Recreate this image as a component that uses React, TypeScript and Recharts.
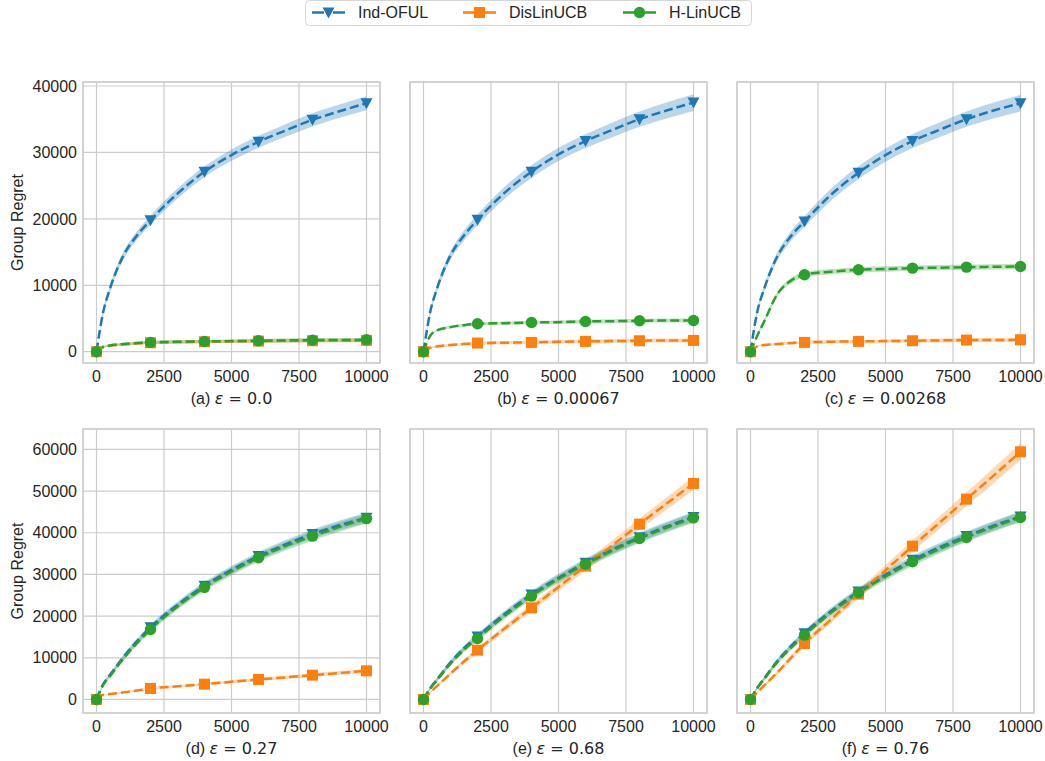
import React from "react";
import { ComposedChart, Line, Area, XAxis, YAxis, CartesianGrid, ReferenceArea, Label } from "recharts";

// time steps (markers every 2000)
const T = [0, 250, 500, 1000, 1500, 2000, 3000, 4000, 5000, 6000, 7000, 8000, 9000, 10000];
const X_TICKS = [0, 2500, 5000, 7500, 10000];
const Y_TICKS_TOP = [0, 10000, 20000, 30000, 40000];
const Y_TICKS_BOTTOM = [0, 10000, 20000, 30000, 40000, 50000, 60000];

// (a) eps = 0.0
const A_IND = [0, 6000, 9500, 14500, 17500, 19800, 23800, 27100, 29600, 31600, 33300, 34900, 36200, 37400];
const A_DIS = [0, 700, 900, 1100, 1250, 1350, 1450, 1500, 1550, 1600, 1650, 1650, 1700, 1700];
const A_HLIN = [0, 750, 950, 1150, 1300, 1400, 1500, 1550, 1600, 1650, 1700, 1750, 1750, 1800];
// (b) eps = 0.00067
const B_IND = [0, 6000, 9500, 14500, 17500, 19850, 23900, 27100, 29700, 31700, 33400, 35000, 36300, 37500];
const B_DIS = [0, 600, 800, 1000, 1150, 1300, 1350, 1400, 1500, 1550, 1600, 1650, 1700, 1700];
const B_HLIN = [0, 2400, 3200, 3700, 4000, 4200, 4300, 4400, 4450, 4550, 4600, 4650, 4700, 4700];
// (c) eps = 0.00268
const C_IND = [0, 6000, 9400, 14400, 17400, 19600, 23700, 26950, 29600, 31700, 33400, 35000, 36300, 37400];
const C_DIS = [0, 800, 1000, 1150, 1300, 1400, 1500, 1550, 1600, 1650, 1700, 1750, 1750, 1800];
const C_HLIN = [0, 2400, 4500, 8700, 10700, 11580, 12050, 12330, 12450, 12580, 12650, 12730, 12780, 12830];
// (d) eps = 0.27
const D_IND = [0, 3700, 5900, 10200, 14000, 17300, 22700, 27300, 31100, 34400, 37200, 39700, 41800, 43600];
const D_DIS = [0, 1100, 1300, 1700, 2150, 2640, 3150, 3670, 4250, 4800, 5300, 5830, 6350, 6870];
const D_HLIN = [0, 3500, 5600, 9800, 13500, 16800, 22300, 26900, 30700, 34000, 36800, 39200, 41400, 43400];
// (e) eps = 0.68
const E_IND = [0, 2700, 4800, 8900, 12300, 15100, 20500, 25200, 29200, 32800, 36000, 38900, 41500, 43800];
const E_DIS = [0, 1700, 3200, 6200, 9100, 11830, 17000, 21990, 27000, 32000, 37000, 42070, 47000, 51830];
const E_HLIN = [0, 2600, 4600, 8600, 11900, 14640, 20000, 24800, 28900, 32470, 35700, 38640, 41200, 43580];
// (f) eps = 0.76
const F_IND = [0, 2800, 5000, 9300, 12800, 15900, 21300, 25900, 29900, 33500, 36500, 39200, 41700, 43900];
const F_DIS = [0, 1700, 3300, 6500, 10000, 13430, 19300, 25270, 31000, 36800, 42400, 48070, 53700, 59430];
const F_HLIN = [0, 2700, 4800, 9000, 12400, 15430, 20900, 25590, 29500, 33030, 36100, 38880, 41400, 43670];

// half-widths of the shaded bands
const BAND_IND_A = [0, 400, 500, 600, 650, 700, 750, 800, 850, 900, 950, 1000, 1000, 1050];
const BAND_IND_B = [0, 400, 500, 650, 750, 800, 900, 950, 1000, 1050, 1100, 1150, 1200, 1250];
const BAND_FLAT = [0, 100, 150, 200, 200, 250, 250, 250, 250, 300, 300, 300, 300, 300];
const BAND_GREEN_C = [0, 200, 300, 350, 400, 400, 400, 400, 400, 400, 400, 400, 400, 400];
const BAND_BOTTOM = [0, 300, 400, 500, 600, 700, 800, 900, 950, 1000, 1050, 1100, 1150, 1200];
const BAND_DIS_D = [0, 100, 150, 200, 250, 300, 300, 350, 350, 400, 400, 450, 450, 500];
const BAND_DIS_E = [0, 200, 300, 400, 500, 600, 750, 900, 1000, 1100, 1200, 1300, 1450, 1600];
const BAND_DIS_F = [0, 200, 300, 450, 600, 700, 900, 1050, 1200, 1350, 1500, 1650, 1850, 2000];

const BLUE = "#1f77b4";
const ORANGE = "#ff7f0e";
const GREEN = "#2ca02c";
const GRID = "#cccccc";
const TEXT = "#262626";

const COL_LEFT = [83, 410, 737];
const ROW_TOP = [82, 429];
const BOX_W = 297;
const BOX_H = [281, 284];
const Y_DOMAIN: [number, number][] = [[-1700, 40600], [-3250, 64900]];
const AXIS_W = 80;

const PANELS = [
  { tag: "a", eps: "0.0", row: 0, col: 0, ind: A_IND, dis: A_DIS, hlin: A_HLIN, bi: BAND_IND_A, bd: BAND_FLAT, bh: BAND_FLAT },
  { tag: "b", eps: "0.00067", row: 0, col: 1, ind: B_IND, dis: B_DIS, hlin: B_HLIN, bi: BAND_IND_B, bd: BAND_FLAT, bh: BAND_FLAT },
  { tag: "c", eps: "0.00268", row: 0, col: 2, ind: C_IND, dis: C_DIS, hlin: C_HLIN, bi: BAND_IND_B, bd: BAND_FLAT, bh: BAND_GREEN_C },
  { tag: "d", eps: "0.27", row: 1, col: 0, ind: D_IND, dis: D_DIS, hlin: D_HLIN, bi: BAND_BOTTOM, bd: BAND_DIS_D, bh: BAND_BOTTOM },
  { tag: "e", eps: "0.68", row: 1, col: 1, ind: E_IND, dis: E_DIS, hlin: E_HLIN, bi: BAND_BOTTOM, bd: BAND_DIS_E, bh: BAND_BOTTOM },
  { tag: "f", eps: "0.76", row: 1, col: 2, ind: F_IND, dis: F_DIS, hlin: F_HLIN, bi: BAND_BOTTOM, bd: BAND_DIS_F, bh: BAND_BOTTOM },
];

type Shape = "tri" | "square" | "circle";

function MarkerShape({ shape, color, cx, cy }: { shape: Shape; color: string; cx: number; cy: number }) {
  if (shape === "tri") {
    return <polygon points={`${cx - 6},${cy - 5} ${cx + 6},${cy - 5} ${cx},${cy + 6}`} fill={color} />;
  }
  if (shape === "square") {
    return <rect x={cx - 5.5} y={cy - 5.5} width={11} height={11} fill={color} />;
  }
  return <circle cx={cx} cy={cy} r={5.7} fill={color} />;
}

const markerDot = (shape: Shape, color: string) => (props: any) => {
  const { cx, cy, payload, index } = props;
  if (cx == null || cy == null || payload.t % 2000 !== 0) return <g key={index} />;
  return (
    <g key={index}>
      <MarkerShape shape={shape} color={color} cx={cx} cy={cy} />
    </g>
  );
};

function Panel({ p }: { p: (typeof PANELS)[number] }) {
  const data = T.map((t, i) => ({
    t,
    ind: p.ind[i],
    indBand: [p.ind[i] - p.bi[i], p.ind[i] + p.bi[i]],
    dis: p.dis[i],
    disBand: [p.dis[i] - p.bd[i], p.dis[i] + p.bd[i]],
    hlin: p.hlin[i],
    hlinBand: [p.hlin[i] - p.bh[i], p.hlin[i] + p.bh[i]],
  }));
  const boxH = BOX_H[p.row];
  const domain = Y_DOMAIN[p.row];
  const first = p.col === 0;
  const width = AXIS_W + BOX_W + 12;
  const height = 10 + boxH + 50;

  return (
    <div style={{ position: "absolute", left: COL_LEFT[p.col] - AXIS_W, top: ROW_TOP[p.row] - 10 }}>
      <ComposedChart
        width={width}
        height={height}
        data={data}
        margin={{ top: 10, right: 12, bottom: 0, left: first ? 0 : AXIS_W }}
        style={{ fontFamily: "'Liberation Sans', Arial, sans-serif" }}
      >
        <CartesianGrid stroke={GRID} strokeWidth={1.2} />
        <ReferenceArea x1={-500} x2={10500} y1={domain[0]} y2={domain[1]} fill="none" stroke={GRID} strokeWidth={1.4} />
        <XAxis
          type="number"
          dataKey="t"
          domain={[-500, 10500]}
          ticks={X_TICKS}
          height={50}
          tickLine={false}
          axisLine={false}
          tickSize={6}
          tickMargin={2}
          tick={{ fill: TEXT, fontSize: 16 }}
          allowDataOverflow
        >
          <Label
            content={(lp: any) => {
              const vb = lp.viewBox || {};
              const cx = (vb.x ?? 0) + (vb.width ?? 0) / 2;
              const y = (vb.y ?? 0) + 41;
              return (
                <text x={cx} y={y} textAnchor="middle" fill={TEXT} fontSize={16}>
                  <tspan fontFamily="'Liberation Sans', Arial, sans-serif">({p.tag}) </tspan>
                  <tspan fontFamily="'DejaVu Sans', sans-serif" fontStyle="italic">ε</tspan>
                  <tspan fontFamily="'DejaVu Sans', sans-serif"> = {p.eps}</tspan>
                </text>
              );
            }}
          />
        </XAxis>
        <YAxis
          type="number"
          domain={domain}
          ticks={p.row === 0 ? Y_TICKS_TOP : Y_TICKS_BOTTOM}
          width={first ? AXIS_W : 0}
          tick={first ? { fill: TEXT, fontSize: 16 } : false}
          tickLine={false}
          axisLine={false}
          tickSize={4}
          tickMargin={2}
          allowDataOverflow
        >
          {first && (
            <Label
              content={(lp: any) => {
                const vb = lp.viewBox || {};
                const cy = (vb.y ?? 0) + (vb.height ?? 0) / 2;
                return (
                  <text
                    x={14}
                    y={cy}
                    transform={`rotate(-90, 14, ${cy})`}
                    textAnchor="middle"
                    dominantBaseline="central"
                    fill={TEXT}
                    fontSize={16}
                  >
                    Group Regret
                  </text>
                );
              }}
            />
          )}
        </YAxis>

        <Area type="monotone" dataKey="indBand" stroke="none" fill={BLUE} fillOpacity={0.3} isAnimationActive={false} />
        <Line
          type="monotone"
          dataKey="ind"
          stroke={BLUE}
          strokeWidth={2.5}
          strokeDasharray="9 4"
          dot={markerDot("tri", BLUE)}
          activeDot={false}
          isAnimationActive={false}
        />
        <Area type="monotone" dataKey="disBand" stroke="none" fill={ORANGE} fillOpacity={0.3} isAnimationActive={false} />
        <Line
          type="monotone"
          dataKey="dis"
          stroke={ORANGE}
          strokeWidth={2.5}
          strokeDasharray="9 4"
          dot={markerDot("square", ORANGE)}
          activeDot={false}
          isAnimationActive={false}
        />
        <Area type="monotone" dataKey="hlinBand" stroke="none" fill={GREEN} fillOpacity={0.3} isAnimationActive={false} />
        <Line
          type="monotone"
          dataKey="hlin"
          stroke={GREEN}
          strokeWidth={2.5}
          strokeDasharray="9 4"
          dot={markerDot("circle", GREEN)}
          activeDot={false}
          isAnimationActive={false}
        />
      </ComposedChart>
    </div>
  );
}

const LEGEND = [
  { name: "Ind-OFUL", color: BLUE, shape: "tri" as Shape, x: 312 },
  { name: "DisLinUCB", color: ORANGE, shape: "square" as Shape, x: 463 },
  { name: "H-LinUCB", color: GREEN, shape: "circle" as Shape, x: 623 },
];

function TopLegend() {
  return (
    <svg width={1045} height={30} style={{ position: "absolute", left: 0, top: 0 }}>
      <rect x={305.5} y={0.5} width={446} height={25} rx={4} fill="#ffffff" stroke="#d6d6d6" />
      {LEGEND.map((l) => (
        <g key={l.name}>
          <line x1={l.x} y1={12.5} x2={l.x + 33} y2={12.5} stroke={l.color} strokeWidth={2.5} strokeDasharray="12 9" />
          <MarkerShape shape={l.shape} color={l.color} cx={l.x + 16.5} cy={12.5} />
          <text x={l.x + 46} y={18} fill={TEXT} fontSize={16} fontFamily="'Liberation Sans', Arial, sans-serif">
            {l.name}
          </text>
        </g>
      ))}
    </svg>
  );
}

export default function App() {
  return (
    <div style={{ position: "absolute", left: 0, top: 0, width: 1045, height: 761, background: "#ffffff" }}>
      <TopLegend />
      {PANELS.map((p) => (
        <Panel key={p.tag} p={p} />
      ))}
    </div>
  );
}
